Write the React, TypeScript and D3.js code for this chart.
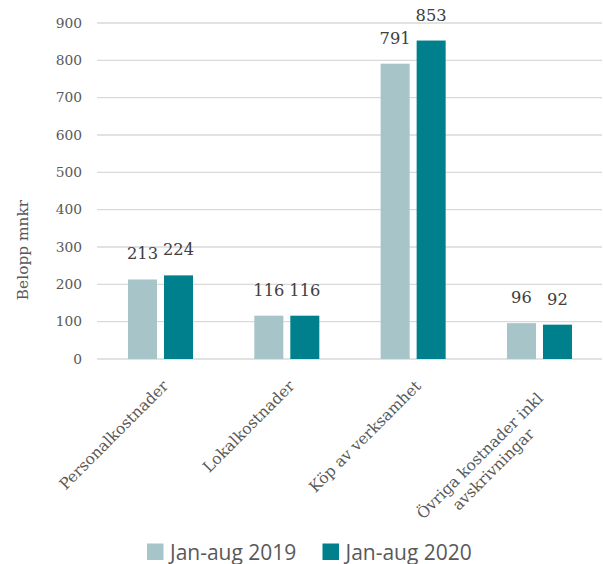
import React, { useEffect, useRef } from "react";
import * as d3 from "d3";

const categories = [
  "Personalkostnader",
  "Lokalkostnader",
  "Köp av verksamhet",
  "Övriga kostnader inkl\navskrivningar",
];
const seriesNames = ["Jan-aug 2019", "Jan-aug 2020"];
const values2019 = [213, 116, 791, 96];
const values2020 = [224, 116, 853, 92];
const yTicks = [0, 100, 200, 300, 400, 500, 600, 700, 800, 900];
const colors = ["#A7C4C9", "#00808C"];

const W = 603;
const H = 564;
const SERIF = "'DejaVu Serif', serif";
const SANS = "'Open Sans', sans-serif";

export default function App() {
  const ref = useRef<SVGSVGElement>(null);

  useEffect(() => {
    const svg = d3.select(ref.current);
    svg.selectAll("*").remove();

    const y = d3.scaleLinear().domain([0, 900]).range([359, 23]);
    const x0 = d3.scaleBand<string>().domain(categories).range([97, 602.3]).padding(0);
    const x1 = d3
      .scaleBand<string>()
      .domain(seriesNames)
      .range([31, 96])
      .paddingInner(0.194)
      .paddingOuter(0);

    // gridlines
    svg
      .append("g")
      .selectAll("line")
      .data(yTicks)
      .join("line")
      .attr("x1", 97)
      .attr("x2", 602)
      .attr("y1", (d) => y(d))
      .attr("y2", (d) => y(d))
      .attr("stroke", "#D9D9D9")
      .attr("stroke-width", 1.3);

    // tick labels
    svg
      .append("g")
      .selectAll("text")
      .data(yTicks)
      .join("text")
      .attr("x", 82)
      .attr("y", (d) => y(d))
      .attr("dy", "0.35em")
      .attr("text-anchor", "end")
      .attr("font-family", SERIF)
      .attr("font-size", 13.8)
      .attr("fill", "#595959")
      .text((d) => String(d));

    // axis title
    svg
      .append("text")
      .attr("transform", `translate(28,250) rotate(-90)`)
      .attr("text-anchor", "middle")
      .attr("font-family", SERIF)
      .attr("font-size", 15.4)
      .attr("fill", "#595959")
      .text("Belopp mnkr");

    const seriesVals = [values2019, values2020];

    // bars + labels
    categories.forEach((cat, ci) => {
      const g = svg.append("g").attr("transform", `translate(${x0(cat)},0)`);
      seriesNames.forEach((s, si) => {
        const v = seriesVals[si][ci];
        g.append("rect")
          .attr("x", x1(s)!)
          .attr("width", x1.bandwidth())
          .attr("y", y(v))
          .attr("height", y(0) - y(v))
          .attr("fill", colors[si]);
        g.append("text")
          .attr("x", x1(s)! + x1.bandwidth() / 2)
          .attr("y", y(v) - 20)
          .attr("text-anchor", "middle")
          .attr("font-family", SERIF)
          .attr("font-size", 16.3)
          .attr("fill", "#404040")
          .text(String(v));
      });
    });

    // category labels
    categories.forEach((cat) => {
      const cx = x0(cat)! + x0.bandwidth() / 2;
      const lines = cat.split("\n");
      const g = svg
        .append("g")
        .attr("transform", `translate(${cx + 9},${387 + (lines.length > 1 ? 8 : 0)}) rotate(-45)`);
      const texts = lines.map((ln, i) =>
        g
          .append("text")
          .attr("x", 0)
          .attr("y", i * 19)
          .attr("font-family", SERIF)
          .attr("font-size", 15.5)
          .attr("fill", "#595959")
          .text(ln)
      );
      const widths = texts.map((t) => (t.node() as SVGTextElement).getComputedTextLength());
      const wmax = Math.max(...widths);
      texts.forEach((t) => t.attr("text-anchor", "middle").attr("x", -wmax / 2 - (lines.length > 1 ? 6 : 0)));
    });

    // legend
    const legendX = [147, 322.5];
    seriesNames.forEach((s, si) => {
      svg
        .append("rect")
        .attr("x", legendX[si])
        .attr("y", 543.5)
        .attr("width", 16.5)
        .attr("height", 16.5)
        .attr("fill", colors[si]);
      svg
        .append("text")
        .attr("x", legendX[si] + 23)
        .attr("y", 559.5)
        .attr("font-family", SANS)
        .attr("font-size", 21)
        .attr("fill", "#595959")
        .text(s);
    });
  }, []);

  return (
    <svg
      ref={ref}
      width={W}
      height={H}
      style={{ position: "absolute", left: 0, top: 0, background: "#fff" }}
    />
  );
}
